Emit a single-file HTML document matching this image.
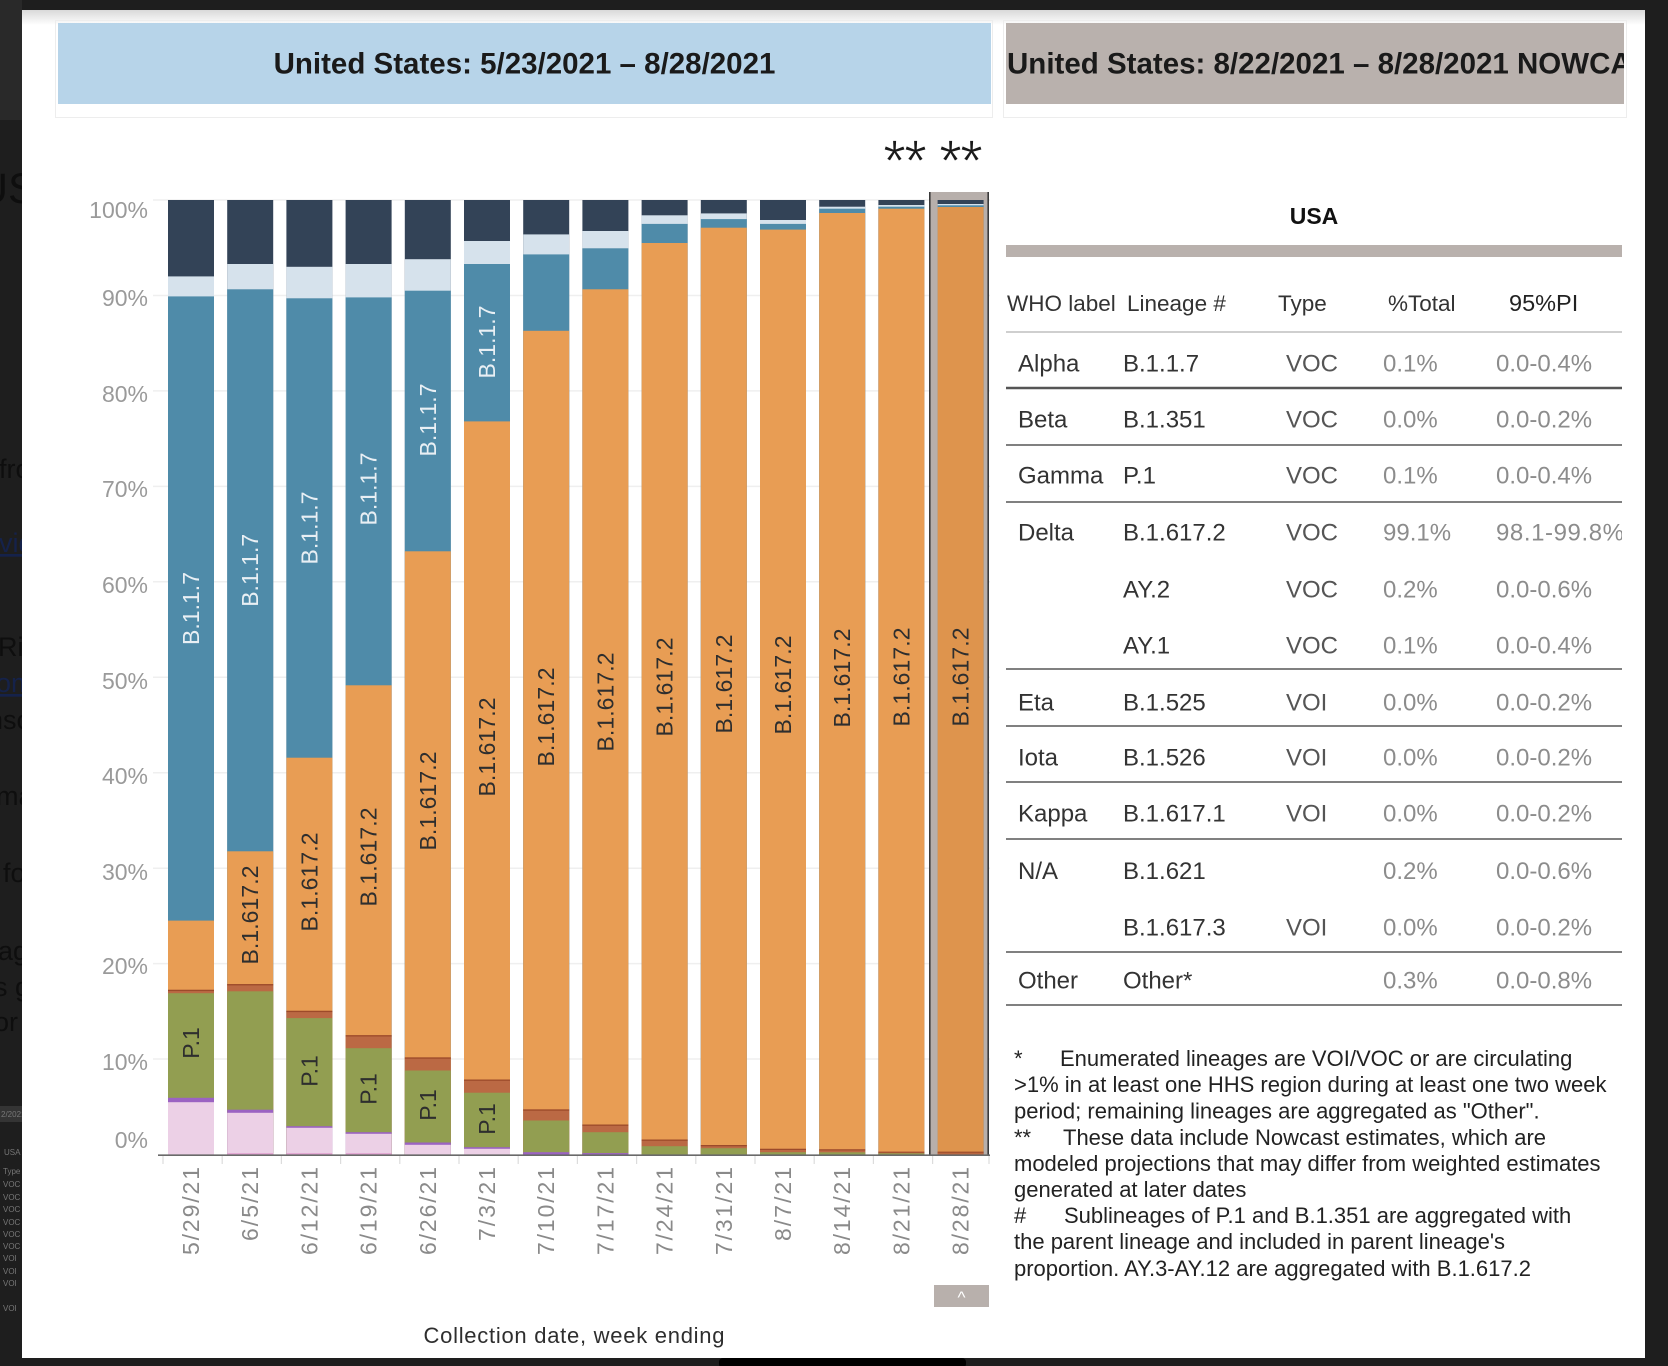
<!DOCTYPE html>
<html><head><meta charset="utf-8">
<style>
html,body{margin:0;padding:0;background:#1e1e1e;}
svg{display:block;}
.nv{fill:#334357}.lt{fill:#d6e2ec}.tl{fill:#4f8ba9}.or{fill:#e89d54}.ru{fill:#bb6944}.gr{fill:#929e51}.pu{fill:#9b63c2}.pk{fill:#ecd0e6}
.or14{fill:#de944d}
.ax{font-family:"Liberation Sans",Arial,sans-serif;font-size:23px;fill:#9a9a9a}
.cat{font-family:"Liberation Sans",Arial,sans-serif;font-size:23px;fill:#8a8a8a}
.lbw{font-family:"Liberation Sans",Arial,sans-serif;font-size:23px;fill:#e8eff4}
.lbd{font-family:"Liberation Sans",Arial,sans-serif;font-size:23px;fill:#2e2e2e}
.th{font-family:"Liberation Sans",Arial,sans-serif;font-size:22.5px;fill:#333}
.td{font-family:"Liberation Sans",Arial,sans-serif;font-size:24px}
.fn{font-family:"Liberation Sans",Arial,sans-serif;font-size:22px;fill:#222}
</style></head>
<body>
<svg width="1668" height="1366" viewBox="0 0 1668 1366" xmlns="http://www.w3.org/2000/svg">
<defs>
<linearGradient id="tg" x1="0" y1="0" x2="0" y2="1"><stop offset="0" stop-color="#d9d9d9"/><stop offset="1" stop-color="#ffffff"/></linearGradient>
<clipPath id="rc"><rect x="1006" y="23" width="618" height="81"/></clipPath>
<clipPath id="tc"><rect x="1000" y="260" width="622" height="780"/></clipPath>
</defs>
<rect x="0" y="0" width="1668" height="1366" fill="#1e1e1e"/>
<rect x="0" y="0" width="22" height="120" fill="#292929"/>
<!-- left strip background page fragments -->
<g font-family="Liberation Sans, Arial, sans-serif" fill="#0e0e0e">
<text x="-23" y="203" font-size="43">US</text>
<text x="-1" y="478" font-size="27">from</text>
<text x="-1" y="552" font-size="27" fill="#15224a" text-decoration="underline">vid</text>
<text x="-2" y="656" font-size="27">Rig</text>
<text x="-4" y="692" font-size="27" fill="#15224a" text-decoration="underline">om</text>
<text x="-12" y="729" font-size="27">nsc</text>
<text x="-4" y="805" font-size="27">ma</text>
<text x="3" y="882" font-size="27">fo</text>
<text x="-2" y="960" font-size="27">ag</text>
<text x="-6" y="996" font-size="27">s g</text>
<text x="-6" y="1031" font-size="27">or</text>
</g>
<rect x="0" y="1106" width="22" height="16" fill="#343434"/>
<g font-family="Liberation Sans, Arial, sans-serif" font-size="8" fill="#777">
<text x="1" y="1117">2/2021</text>
<text x="4" y="1155">USA</text>
<text x="3" y="1174">Type</text>
<text x="3" y="1187">VOC</text><text x="3" y="1200">VOC</text><text x="3" y="1212">VOC</text><text x="3" y="1225">VOC</text><text x="3" y="1237">VOC</text><text x="3" y="1249">VOC</text>
<text x="3" y="1261">VOI</text><text x="3" y="1274">VOI</text><text x="3" y="1286">VOI</text><text x="3" y="1311">VOI</text>
</g>
<!-- white panel -->
<rect x="22" y="10" width="1623" height="1348" fill="#ffffff"/>
<rect x="22" y="10" width="1623" height="15" fill="url(#tg)"/>
<rect x="719" y="1358" width="247" height="10" rx="4" fill="#000"/>

<!-- headers -->
<rect x="55.5" y="20.5" width="937" height="97" fill="none" stroke="#ededed"/>
<rect x="58" y="23" width="933" height="81" fill="#b7d4e9"/>
<text x="524.5" y="73.5" text-anchor="middle" font-family="Liberation Sans, Arial, sans-serif" font-weight="bold" font-size="29.5" fill="#1a1a1a">United States: 5/23/2021 – 8/28/2021</text>
<rect x="1003.5" y="20.5" width="623" height="97" fill="none" stroke="#ededed"/>
<rect x="1006" y="23" width="618" height="81" fill="#b9b1ad"/>
<g clip-path="url(#rc)"><text x="1007" y="73.5" font-family="Liberation Sans, Arial, sans-serif" font-weight="bold" font-size="29.5" fill="#1a1a1a">United States: 8/22/2021 – 8/28/2021 NOWCAST</text></g>

<!-- asterisks -->
<g font-family="Liberation Sans, Arial, sans-serif" font-size="58" fill="#1a1a1a" stroke="#ffffff" stroke-width="0.8" text-anchor="middle">
<text x="894.5" y="181">*</text><text x="915.5" y="181">*</text><text x="950.5" y="181">*</text><text x="971.5" y="181">*</text>
</g>

<!-- gridlines -->
<g stroke="#efefef" stroke-width="1.5">
<line x1="153" x2="990" y1="200" y2="200"/><line x1="153" x2="990" y1="295.5" y2="295.5"/><line x1="153" x2="990" y1="390.9" y2="390.9"/>
<line x1="153" x2="990" y1="486.4" y2="486.4"/><line x1="153" x2="990" y1="581.8" y2="581.8"/><line x1="153" x2="990" y1="677.3" y2="677.3"/>
<line x1="153" x2="990" y1="772.7" y2="772.7"/><line x1="153" x2="990" y1="868.2" y2="868.2"/><line x1="153" x2="990" y1="963.6" y2="963.6"/>
<line x1="153" x2="990" y1="1059" y2="1059"/>
</g>
<!-- y axis labels -->
<g class="ax" text-anchor="end">
<text x="148" y="218">100%</text><text x="148" y="306">90%</text><text x="148" y="402">80%</text><text x="148" y="497">70%</text>
<text x="148" y="593">60%</text><text x="148" y="689">50%</text><text x="148" y="784">40%</text><text x="148" y="880">30%</text>
<text x="148" y="974">20%</text><text x="148" y="1070">10%</text><text x="148" y="1148">0%</text>
</g>

<!-- highlight box bar 14 -->
<rect x="929" y="192" width="60" height="963" fill="#b7afab"/>
<line x1="929.8" x2="929.8" y1="192" y2="1155" stroke="#3a3a3a" stroke-width="1.6"/>
<line x1="988.2" x2="988.2" y1="192" y2="1155" stroke="#3a3a3a" stroke-width="1.6"/>

<!-- bars -->
<g transform="translate(168,0)">
<rect class="nv" y="200" width="46" height="954.5"/><rect class="lt" y="276.4" width="46" height="878.1"/><rect class="tl" y="296.4" width="46" height="858.1"/><rect class="or" y="920.6" width="46" height="233.9"/><rect class="ru" y="989.8" width="46" height="164.7"/><rect fill="#9c4a2a" y="989.8" width="46" height="1.3"/><rect class="gr" y="993.2" width="46" height="161.3"/><rect class="pu" y="1097.8" width="46" height="56.7"/><rect class="pk" y="1102.2" width="46" height="52.3"/>
</g>
<g transform="translate(227.2,0)">
<rect class="nv" y="200" width="46" height="954.5"/><rect class="lt" y="264" width="46" height="890.5"/><rect class="tl" y="289.3" width="46" height="865.2"/><rect class="or" y="851.3" width="46" height="303.2"/><rect class="ru" y="984.1" width="46" height="170.4"/><rect fill="#9c4a2a" y="984.1" width="46" height="1.3"/><rect class="gr" y="991.3" width="46" height="163.2"/><rect class="pu" y="1109.7" width="46" height="44.8"/><rect class="pk" y="1112.8" width="46" height="41.7"/><rect fill="#e3a9d4" y="1153" width="46" height="1.5"/>
</g>
<g transform="translate(286.4,0)">
<rect class="nv" y="200" width="46" height="954.5"/><rect class="lt" y="266.8" width="46" height="887.7"/><rect class="tl" y="298.3" width="46" height="856.2"/><rect class="or" y="757.7" width="46" height="396.8"/><rect class="ru" y="1010.8" width="46" height="143.7"/><rect fill="#9c4a2a" y="1010.8" width="46" height="1.3"/><rect class="gr" y="1018.1" width="46" height="136.4"/><rect class="pu" y="1126.2" width="46" height="28.3"/><rect class="pk" y="1127.8" width="46" height="26.7"/><rect fill="#e3a9d4" y="1153" width="46" height="1.5"/>
</g>
<g transform="translate(345.6,0)">
<rect class="nv" y="200" width="46" height="954.5"/><rect class="lt" y="264" width="46" height="890.5"/><rect class="tl" y="297.4" width="46" height="857.1"/><rect class="or" y="685.3" width="46" height="469.2"/><rect class="ru" y="1035.2" width="46" height="119.3"/><rect fill="#9c4a2a" y="1035.2" width="46" height="1.3"/><rect class="gr" y="1048.2" width="46" height="106.3"/><rect class="pu" y="1132.2" width="46" height="22.3"/><rect class="pk" y="1133.8" width="46" height="20.7"/><rect fill="#e3a9d4" y="1153" width="46" height="1.5"/>
</g>
<g transform="translate(404.8,0)">
<rect class="nv" y="200" width="46" height="954.5"/><rect class="lt" y="259.2" width="46" height="895.3"/><rect class="tl" y="290.7" width="46" height="863.8"/><rect class="or" y="551.3" width="46" height="603.2"/><rect class="ru" y="1057.4" width="46" height="97.1"/><rect fill="#9c4a2a" y="1057.4" width="46" height="1.3"/><rect class="gr" y="1070.5" width="46" height="84"/><rect class="pu" y="1142.5" width="46" height="12"/><rect class="pk" y="1144.8" width="46" height="9.7"/>
</g>
<g transform="translate(464,0)">
<rect class="nv" y="200" width="46" height="954.5"/><rect class="lt" y="241" width="46" height="913.5"/><rect class="tl" y="264" width="46" height="890.5"/><rect class="or" y="421.4" width="46" height="733.1"/><rect class="ru" y="1079.5" width="46" height="75"/><rect fill="#9c4a2a" y="1079.5" width="46" height="1.3"/><rect class="gr" y="1092.7" width="46" height="61.8"/><rect class="pu" y="1147.2" width="46" height="7.3"/><rect class="pk" y="1148.8" width="46" height="5.7"/>
</g>
<g transform="translate(523.2,0)">
<rect class="nv" y="200" width="46" height="954.5"/><rect class="lt" y="234.4" width="46" height="920.1"/><rect class="tl" y="254.4" width="46" height="900.1"/><rect class="or" y="330.8" width="46" height="823.7"/><rect class="ru" y="1109.4" width="46" height="45.1"/><rect fill="#9c4a2a" y="1109.4" width="46" height="1.3"/><rect class="gr" y="1120.5" width="46" height="34"/><rect class="pu" y="1152.2" width="46" height="2.3"/>
</g>
<g transform="translate(582.4,0)">
<rect class="nv" y="200" width="46" height="954.5"/><rect class="lt" y="231" width="46" height="923.5"/><rect class="tl" y="248.3" width="46" height="906.2"/><rect class="or" y="289.3" width="46" height="865.2"/><rect class="ru" y="1124.5" width="46" height="30"/><rect fill="#9c4a2a" y="1124.5" width="46" height="1.3"/><rect class="gr" y="1132.2" width="46" height="22.3"/><rect class="pu" y="1153.1" width="46" height="1.4"/>
</g>
<g transform="translate(641.6,0)">
<rect class="nv" y="200" width="46" height="954.5"/><rect class="lt" y="215.3" width="46" height="939.2"/><rect class="tl" y="223.9" width="46" height="930.6"/><rect class="or" y="243" width="46" height="911.5"/><rect class="ru" y="1139.5" width="46" height="15"/><rect fill="#9c4a2a" y="1139.5" width="46" height="1.3"/><rect class="gr" y="1146.2" width="46" height="8.3"/>
</g>
<g transform="translate(700.8,0)">
<rect class="nv" y="200" width="46" height="954.5"/><rect class="lt" y="213.4" width="46" height="941.1"/><rect class="tl" y="219.1" width="46" height="935.4"/><rect class="or" y="227.7" width="46" height="926.8"/><rect class="ru" y="1145" width="46" height="9.5"/><rect fill="#9c4a2a" y="1145" width="46" height="1.3"/><rect class="gr" y="1148.2" width="46" height="6.3"/>
</g>
<g transform="translate(760,0)">
<rect class="nv" y="200" width="46" height="954.5"/><rect class="lt" y="220" width="46" height="934.5"/><rect class="tl" y="223.9" width="46" height="930.6"/><rect class="or" y="229.6" width="46" height="924.9"/><rect class="ru" y="1148.8" width="46" height="5.7"/><rect fill="#9c4a2a" y="1148.8" width="46" height="1.2"/><rect class="gr" y="1152.2" width="46" height="2.3"/>
</g>
<g transform="translate(819.2,0)">
<rect class="nv" y="200" width="46" height="954.5"/><rect class="lt" y="206.7" width="46" height="947.8"/><rect class="tl" y="208.7" width="46" height="945.8"/><rect class="or" y="213" width="46" height="941.5"/><rect class="ru" y="1149.3" width="46" height="5.2"/><rect fill="#9c4a2a" y="1149.3" width="46" height="1.2"/><rect class="gr" y="1152.3" width="46" height="2.2"/>
</g>
<g transform="translate(878.4,0)">
<rect class="nv" y="200" width="46" height="954.5"/><rect class="lt" y="205" width="46" height="949.5"/><rect class="tl" y="206.7" width="46" height="947.8"/><rect class="or" y="208.7" width="46" height="945.8"/><rect class="ru" y="1151.7" width="46" height="2.8"/><rect fill="#9c4a2a" y="1151.7" width="46" height="1"/><rect class="gr" y="1153.3" width="46" height="1.2"/>
</g>
<g transform="translate(937.6,0)">
<rect class="nv" y="200" width="46" height="954.5"/><rect class="lt" y="204" width="46" height="950.5"/><rect class="tl" y="205.3" width="46" height="949.2"/><rect class="or14" y="207" width="46" height="947.5"/><rect fill="#b86640" y="1151.7" width="46" height="2.8"/><rect fill="#9c4a2a" y="1151.7" width="46" height="1"/>
</g>

<!-- bar labels: B.1.1.7 -->
<g class="lbw" text-anchor="middle">
<text transform="translate(191,608.5) rotate(-90)" dy="8" textLength="73">B.1.1.7</text>
<text transform="translate(250.2,570.3) rotate(-90)" dy="8" textLength="73">B.1.1.7</text>
<text transform="translate(309.4,528) rotate(-90)" dy="8" textLength="73">B.1.1.7</text>
<text transform="translate(368.6,489) rotate(-90)" dy="8" textLength="73">B.1.1.7</text>
<text transform="translate(427.8,420) rotate(-90)" dy="8" textLength="73">B.1.1.7</text>
<text transform="translate(487,342) rotate(-90)" dy="8" textLength="73">B.1.1.7</text>
</g>
<!-- B.1.617.2 -->
<g class="lbd" text-anchor="middle">
<text transform="translate(250.2,915) rotate(-90)" dy="8" textLength="99">B.1.617.2</text>
<text transform="translate(309.4,882) rotate(-90)" dy="8" textLength="99">B.1.617.2</text>
<text transform="translate(368.6,857) rotate(-90)" dy="8" textLength="99">B.1.617.2</text>
<text transform="translate(427.8,801) rotate(-90)" dy="8" textLength="99">B.1.617.2</text>
<text transform="translate(487,747) rotate(-90)" dy="8" textLength="99">B.1.617.2</text>
<text transform="translate(546.2,717) rotate(-90)" dy="8" textLength="99">B.1.617.2</text>
<text transform="translate(605.4,702) rotate(-90)" dy="8" textLength="99">B.1.617.2</text>
<text transform="translate(664.6,687) rotate(-90)" dy="8" textLength="99">B.1.617.2</text>
<text transform="translate(723.8,684) rotate(-90)" dy="8" textLength="99">B.1.617.2</text>
<text transform="translate(783,685) rotate(-90)" dy="8" textLength="99">B.1.617.2</text>
<text transform="translate(842.2,678) rotate(-90)" dy="8" textLength="99">B.1.617.2</text>
<text transform="translate(901.4,677) rotate(-90)" dy="8" textLength="99">B.1.617.2</text>
<text transform="translate(960.6,677) rotate(-90)" dy="8" textLength="99">B.1.617.2</text>
</g>
<!-- P.1 -->
<g class="lbd" text-anchor="middle">
<text transform="translate(191,1043) rotate(-90)" dy="8">P.1</text>
<text transform="translate(309.4,1071) rotate(-90)" dy="8">P.1</text>
<text transform="translate(368.6,1089) rotate(-90)" dy="8">P.1</text>
<text transform="translate(427.8,1105) rotate(-90)" dy="8">P.1</text>
<text transform="translate(487,1119) rotate(-90)" dy="8">P.1</text>
</g>

<!-- x axis -->
<line x1="158" x2="990" y1="1155.2" y2="1155.2" stroke="#6a6a6a" stroke-width="1.6"/>
<g stroke="#dcdcdc" stroke-width="1.2">
<line x1="163" x2="163" y1="1156" y2="1164"/><line x1="222.2" x2="222.2" y1="1156" y2="1164"/><line x1="281.4" x2="281.4" y1="1156" y2="1164"/>
<line x1="340.6" x2="340.6" y1="1156" y2="1164"/><line x1="399.8" x2="399.8" y1="1156" y2="1164"/><line x1="459" x2="459" y1="1156" y2="1164"/>
<line x1="518.2" x2="518.2" y1="1156" y2="1164"/><line x1="577.4" x2="577.4" y1="1156" y2="1164"/><line x1="636.6" x2="636.6" y1="1156" y2="1164"/>
<line x1="695.8" x2="695.8" y1="1156" y2="1164"/><line x1="755" x2="755" y1="1156" y2="1164"/><line x1="814.2" x2="814.2" y1="1156" y2="1164"/>
<line x1="873.4" x2="873.4" y1="1156" y2="1164"/><line x1="932.6" x2="932.6" y1="1156" y2="1164"/><line x1="989" x2="989" y1="1156" y2="1164"/>
</g>
<g class="cat" text-anchor="end">
<text transform="translate(191,1167) rotate(-90)" dy="8" textLength="88">5/29/21</text>
<text transform="translate(250.2,1167) rotate(-90)" dy="8" textLength="74">6/5/21</text>
<text transform="translate(309.4,1167) rotate(-90)" dy="8" textLength="88">6/12/21</text>
<text transform="translate(368.6,1167) rotate(-90)" dy="8" textLength="88">6/19/21</text>
<text transform="translate(427.8,1167) rotate(-90)" dy="8" textLength="88">6/26/21</text>
<text transform="translate(487,1167) rotate(-90)" dy="8" textLength="74">7/3/21</text>
<text transform="translate(546.2,1167) rotate(-90)" dy="8" textLength="88">7/10/21</text>
<text transform="translate(605.4,1167) rotate(-90)" dy="8" textLength="88">7/17/21</text>
<text transform="translate(664.6,1167) rotate(-90)" dy="8" textLength="88">7/24/21</text>
<text transform="translate(723.8,1167) rotate(-90)" dy="8" textLength="88">7/31/21</text>
<text transform="translate(783,1167) rotate(-90)" dy="8" textLength="74">8/7/21</text>
<text transform="translate(842.2,1167) rotate(-90)" dy="8" textLength="88">8/14/21</text>
<text transform="translate(901.4,1167) rotate(-90)" dy="8" textLength="88">8/21/21</text>
<text transform="translate(960.6,1167) rotate(-90)" dy="8" textLength="88">8/28/21</text>
</g>

<rect x="934" y="1285" width="55" height="22" fill="#b8b0ac"/>
<text x="961.5" y="1303" text-anchor="middle" font-family="Liberation Sans, Arial, sans-serif" font-size="17" fill="#ffffff">^</text>
<text x="574" y="1343" text-anchor="middle" font-family="Liberation Sans, Arial, sans-serif" font-size="22" fill="#2e2e2e" textLength="301">Collection date, week ending</text>

<!-- right table -->
<text x="1314" y="224" text-anchor="middle" font-family="Liberation Sans, Arial, sans-serif" font-weight="bold" font-size="23" fill="#111">USA</text>
<rect x="1006" y="245" width="616" height="12" fill="#b9b1ad"/>
<g class="th">
<text x="1007" y="311">WHO label</text>
<text x="1127" y="311">Lineage #</text>
<text x="1278" y="311">Type</text>
<text x="1388" y="311">%Total</text>
<text x="1509" y="311" font-size="23.5" fill="#222">95%PI</text>
</g>
<line x1="1006" x2="1622" y1="332" y2="332" stroke="#cfcfcf" stroke-width="2"/>
<line x1="1006" x2="1622" y1="388" y2="388" stroke="#555" stroke-width="2.5"/>
<g stroke="#6e6e6e" stroke-width="1.8">
<line x1="1006" x2="1622" y1="445" y2="445"/><line x1="1006" x2="1622" y1="502" y2="502"/><line x1="1006" x2="1622" y1="669" y2="669"/>
<line x1="1006" x2="1622" y1="726" y2="726"/><line x1="1006" x2="1622" y1="782" y2="782"/><line x1="1006" x2="1622" y1="839" y2="839"/>
<line x1="1006" x2="1622" y1="952" y2="952"/><line x1="1006" x2="1622" y1="1005" y2="1005"/>
</g>
<g class="td" fill="#333">
<text x="1018" y="371.5">Alpha</text><text x="1018" y="427.5">Beta</text><text x="1018" y="483.5">Gamma</text><text x="1018" y="540.5">Delta</text>
<text x="1018" y="710.5">Eta</text><text x="1018" y="765.5">Iota</text><text x="1018" y="821.5">Kappa</text><text x="1018" y="879">N/A</text><text x="1018" y="988.5">Other</text>
<text x="1123" y="371.5">B.1.1.7</text><text x="1123" y="427.5">B.1.351</text><text x="1123" y="483.5">P.1</text><text x="1123" y="540.5">B.1.617.2</text>
<text x="1123" y="597.5">AY.2</text><text x="1123" y="653.5">AY.1</text><text x="1123" y="710.5">B.1.525</text><text x="1123" y="765.5">B.1.526</text>
<text x="1123" y="821.5">B.1.617.1</text><text x="1123" y="879">B.1.621</text><text x="1123" y="935.5">B.1.617.3</text><text x="1123" y="988.5">Other*</text>
</g>
<g class="td" fill="#555">
<text x="1286" y="371.5">VOC</text><text x="1286" y="427.5">VOC</text><text x="1286" y="483.5">VOC</text><text x="1286" y="540.5">VOC</text>
<text x="1286" y="597.5">VOC</text><text x="1286" y="653.5">VOC</text><text x="1286" y="710.5">VOI</text><text x="1286" y="765.5">VOI</text>
<text x="1286" y="821.5">VOI</text><text x="1286" y="935.5">VOI</text>
</g>
<g class="td" fill="#8c8c8c" clip-path="url(#tc)">
<text x="1383" y="371.5">0.1%</text><text x="1383" y="427.5">0.0%</text><text x="1383" y="483.5">0.1%</text><text x="1383" y="540.5">99.1%</text>
<text x="1383" y="597.5">0.2%</text><text x="1383" y="653.5">0.1%</text><text x="1383" y="710.5">0.0%</text><text x="1383" y="765.5">0.0%</text>
<text x="1383" y="821.5">0.0%</text><text x="1383" y="879">0.2%</text><text x="1383" y="935.5">0.0%</text><text x="1383" y="988.5">0.3%</text>
<text x="1496" y="371.5">0.0-0.4%</text><text x="1496" y="427.5">0.0-0.2%</text><text x="1496" y="483.5">0.0-0.4%</text><text x="1496" y="540.5" textLength="128">98.1-99.8%</text>
<text x="1496" y="597.5">0.0-0.6%</text><text x="1496" y="653.5">0.0-0.4%</text><text x="1496" y="710.5">0.0-0.2%</text><text x="1496" y="765.5">0.0-0.2%</text>
<text x="1496" y="821.5">0.0-0.2%</text><text x="1496" y="879">0.0-0.6%</text><text x="1496" y="935.5">0.0-0.2%</text><text x="1496" y="988.5">0.0-0.8%</text>
</g>

<!-- footnotes -->
<g class="fn">
<text x="1014" y="1066">*</text><text x="1060" y="1066">Enumerated lineages are VOI/VOC or are circulating</text>
<text x="1014" y="1092">&gt;1% in at least one HHS region during at least one two week</text>
<text x="1014" y="1118.5">period; remaining lineages are aggregated as "Other".</text>
<text x="1014" y="1145">**</text><text x="1063" y="1145">These data include Nowcast estimates, which are</text>
<text x="1014" y="1171">modeled projections that may differ from weighted estimates</text>
<text x="1014" y="1197">generated at later dates</text>
<text x="1014" y="1223">#</text><text x="1064" y="1223">Sublineages of P.1 and B.1.351 are aggregated with</text>
<text x="1014" y="1249">the parent lineage and included in parent lineage's</text>
<text x="1014" y="1276">proportion. AY.3-AY.12 are aggregated with B.1.617.2</text>
</g>
</svg>
</body></html>
